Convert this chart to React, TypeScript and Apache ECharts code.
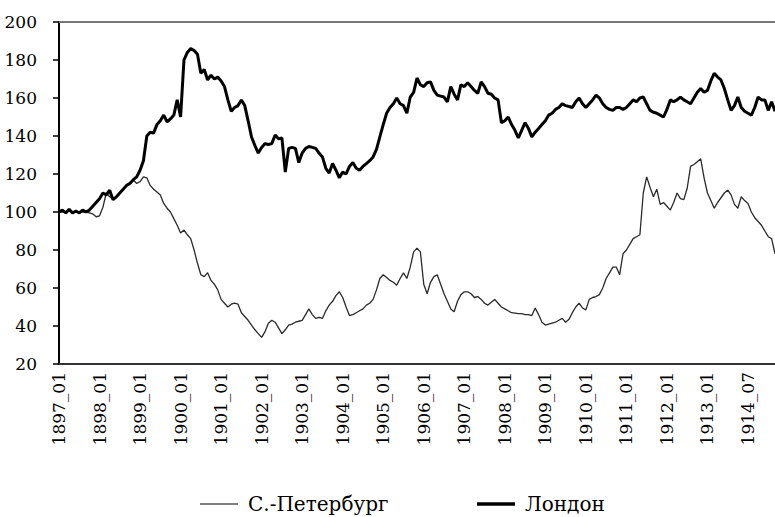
import React, { useEffect, useRef } from "react";
import * as echarts from "echarts";

// Category labels (monthly); the source series has a gap in the first half of 1914
const categories: string[] = [];
for (let y = 1897; y <= 1913; y++) {
  for (let m = 1; m <= 12; m++) categories.push(`${y}_${m < 10 ? "0" + m : m}`);
}
const tail1914 = ["1914_07", "1914_08", "1914_09", "1914_10", "1914_11", "1914_12", "1915_01", "1915_02", "1915_03"];
tail1914.forEach((c) => categories.push(c));

const yTicks = [20, 40, 60, 80, 100, 120, 140, 160, 180, 200];

const seriesNames = ["С.-Петербург", "Лондон"];

const stPetersburg = [
  100, 100, 100, 100.5, 100, 100, 100, 100, 100, 99.5,
  99, 97.5, 98, 102.5, 110, 108, 107, 108, 110, 112,
  114, 115.5, 117, 115, 116, 118.5, 118, 114, 112, 110.5,
  109, 104.5, 102, 100, 96.5, 93, 89, 90.5, 88, 86,
  80, 73, 67, 66, 68, 64, 62, 59, 54, 52,
  50, 51.5, 52, 51.5, 47, 45, 43, 40.5, 38, 36,
  34, 37, 41.5, 43, 42, 39, 36, 38, 40.5, 41,
  42, 42.5, 43, 46, 49, 46, 44, 44.5, 44, 48,
  51, 53, 56, 58, 55, 50, 45.5, 46, 47, 48,
  49, 51, 52, 54, 59, 65, 67, 65.5, 64, 63,
  61.5, 65, 68, 65, 71, 79, 81, 79, 62, 57,
  63, 66, 67, 62, 57, 53, 49, 47.5, 53, 56.5,
  58, 58, 57, 55, 55.5, 54, 52, 51, 52.5, 54,
  52, 50, 49, 48, 47, 46.8, 46.5, 46.5, 46, 46,
  45.5, 49.5, 46, 42, 40.5, 41, 41.5, 42, 43, 44,
  42, 43.5, 47, 50, 52, 49.5, 48.5, 54, 55, 55.5,
  56.5, 60, 65, 68, 71, 71, 67, 78, 80, 83,
  86, 87, 88, 110, 118.5, 113, 108, 112, 104, 105,
  103, 101, 105, 110, 107, 106.5, 112.5, 124, 125, 126.5,
  128, 118, 110, 106, 102, 105, 107.5, 110, 111.5, 109,
  104, 102, 108, 106, 104.5, 100, 97, 95, 93, 90,
  87, 86, 78,
];

const london = [
  100, 101, 99.5, 101.5, 99.5, 100.5, 99.5, 101, 100, 101,
  103, 105, 107, 110, 109, 111.5, 106.5, 108, 110, 112,
  114, 115, 117, 118.5, 122, 127, 140, 142, 141.5, 146,
  148, 151, 147.5, 149, 151, 159, 150, 180, 184, 186,
  185, 183, 173, 175, 169.5, 172, 170, 171, 169, 166,
  159, 153, 155, 156, 159, 156, 148, 139.5, 135, 131,
  134, 136, 135.5, 136, 140.5, 138.5, 139, 121, 133.5, 134,
  133.5, 126, 131, 133.5, 134.5, 134, 133.5, 131, 129, 123,
  120.5, 125.5, 122, 118, 121, 120, 124, 126, 123, 122,
  124, 125.5, 127, 129, 133, 139.5, 146, 152, 155, 157,
  160, 157, 156, 152, 160.5, 163, 170.5, 167, 166, 168,
  168.5, 164, 161.5, 161, 160.5, 158, 166, 162, 159, 167,
  166, 168, 166, 164, 162.5, 168.5, 166, 162.5, 162, 160,
  159, 147, 148, 150, 146, 143, 139, 143, 147, 144,
  139.5, 142, 144, 146, 148, 151, 152, 154, 155, 157,
  156, 155.5, 155, 158, 160, 157, 155, 157, 159, 161.5,
  160, 157, 155, 154, 153.5, 155, 155, 154, 155, 157,
  159, 158, 160, 160.5, 157, 153.5, 152.5, 152, 151, 150,
  154, 159, 158, 159, 160.5, 159, 158, 157, 160, 163,
  165, 163, 164, 169, 173, 171, 169.5, 165, 159, 153.5,
  156, 160.5, 155, 153, 152, 151, 155, 160.5, 159, 159,
  153.5, 158, 153,
];

const FONT = "DejaVu Serif";

export default function App() {
  const ref = useRef<HTMLDivElement>(null);
  useEffect(() => {
    if (!ref.current) return;
    const chart = echarts.init(ref.current, undefined, { renderer: "svg" });
    const legendText = { fontFamily: FONT, fontSize: 20, color: "#000", padding: [0, 0, 0, 5] };
    chart.setOption({
      animation: false,
      backgroundColor: "#ffffff",
      textStyle: { fontFamily: FONT },
      grid: { left: 59, right: 0, top: 22, bottom: 153, containLabel: false },
      legend: [
        {
          data: [seriesNames[0]],
          top: 489,
          left: 195,
          icon: "rect",
          itemWidth: 38,
          itemHeight: 1.5,
          itemStyle: { color: "#555" },
          textStyle: legendText,
        },
        {
          data: [seriesNames[1]],
          top: 489,
          left: 472,
          icon: "rect",
          itemWidth: 38,
          itemHeight: 3.5,
          itemStyle: { color: "#000" },
          textStyle: legendText,
        },
      ],
      xAxis: [
        {
          type: "category",
          data: categories,
          boundaryGap: false,
          axisLine: { show: true, lineStyle: { color: "#333", width: 2 } },
          axisTick: { show: false },
          splitLine: { show: false },
          axisLabel: {
            interval: 11,
            rotate: 90,
            margin: 8,
            fontFamily: FONT,
            fontSize: 17,
            color: "#000",
          },
        },
        {
          type: "category",
          data: categories,
          boundaryGap: false,
          position: "top",
          axisLine: { show: true, lineStyle: { color: "#777", width: 2 } },
          axisTick: { show: false },
          axisLabel: { show: false },
          splitLine: { show: false },
        },
      ],
      yAxis: {
        type: "value",
        min: yTicks[0],
        max: yTicks[yTicks.length - 1],
        interval: 20,
        axisLine: { show: true, lineStyle: { color: "#000", width: 2 } },
        axisTick: { show: true, inside: false, length: 6, lineStyle: { color: "#000", width: 1.5 } },
        splitLine: { show: false },
        axisLabel: { margin: 22, fontFamily: FONT, fontSize: 17, color: "#000" },
      },
      series: [
        {
          name: seriesNames[0],
          type: "line",
          data: stPetersburg,
          symbol: "none",
          lineStyle: { color: "#2a2a2a", width: 1.3 },
          itemStyle: { color: "#555" },
        },
        {
          name: seriesNames[1],
          type: "line",
          data: london,
          symbol: "none",
          lineStyle: { color: "#000", width: 3 },
          itemStyle: { color: "#000" },
        },
      ],
    });
    return () => chart.dispose();
  }, []);
  return (
    <div
      ref={ref}
      style={{ width: 775, height: 517, position: "absolute", left: 0, top: 0 }}
    />
  );
}
